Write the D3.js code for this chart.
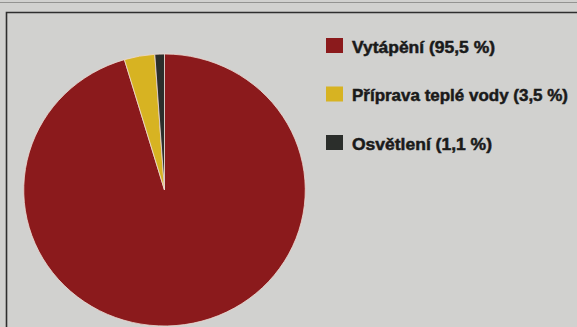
<!DOCTYPE html>
<html>
<head>
<meta charset="utf-8">
<script src="https://cdn.jsdelivr.net/npm/d3@7"></script>
<style>
  html, body { margin: 0; padding: 0; background: #d1d1cf; }
  svg { display: block; }
</style>
</head>
<body>
<svg id="chart" width="577" height="327"></svg>
<script>
// Energy consumption shares
const categories = ["Vytápění", "Příprava teplé vody", "Osvětlení"];
const shares = [95.5, 3.5, 1.1];
const labels = ["Vytápění (95,5 %)", "Příprava teplé vody (3,5 %)", "Osvětlení (1,1 %)"];
const colors = ["#8b1a1c", "#d7b322", "#2b2e2b"];
const labelWidths = [143, 216, 140];

const W = 577, H = 327;
const svg = d3.select("#chart");

// page background and panel frame
svg.append("rect").attr("width", W).attr("height", H).attr("fill", "#d1d1cf");
svg.append("line").attr("x1", 0).attr("x2", W).attr("y1", 2.5).attr("y2", 2.5)
  .attr("stroke", "#6a6a68").attr("stroke-width", 1).attr("opacity", 0.6);
svg.append("path")
  .attr("d", `M6.5,${H + 2} V12.5 H${W + 2}`)
  .attr("fill", "none").attr("stroke", "#2e2e2e").attr("stroke-width", 1.6);

// pie, clockwise from 12 o'clock
const pie = d3.pie().sort(null).value(d => d.value);
const arcs = pie(categories.map((c, i) => ({ name: c, value: shares[i], color: colors[i] })));
const radius = 136;
const arc = d3.arc().innerRadius(0).outerRadius(radius);

const g = svg.append("g").attr("transform", "translate(164.5,190) scale(1.035,1)");
g.selectAll("path.slice")
  .data(arcs)
  .join("path")
  .attr("class", "slice")
  .attr("d", arc)
  .attr("fill", d => d.data.color)
  .attr("stroke", "#ecd9d2")
  .attr("stroke-width", 0.8);

// legend
const legend = svg.append("g").attr("transform", "translate(326,38)");
const step = 48.5;
const items = legend.selectAll("g.item")
  .data(categories)
  .join("g")
  .attr("class", "item")
  .attr("transform", (d, i) => `translate(0,${i * step})`);
items.append("rect")
  .attr("width", 17).attr("height", 15)
  .attr("fill", (d, i) => colors[i]);
items.append("text")
  .attr("x", 26).attr("y", 14.5)
  .attr("font-family", "'Liberation Sans Narrow', 'Liberation Sans', Arial, sans-serif")
  .attr("font-weight", "bold")
  .attr("font-size", 16.5)
  .attr("fill", "#1a1a1a")
  .attr("stroke", "#1a1a1a")
  .attr("stroke-width", 0.5)
  .attr("textLength", (d, i) => labelWidths[i])
  .attr("lengthAdjust", "spacingAndGlyphs")
  .text((d, i) => labels[i]);
</script>
</body>
</html>
